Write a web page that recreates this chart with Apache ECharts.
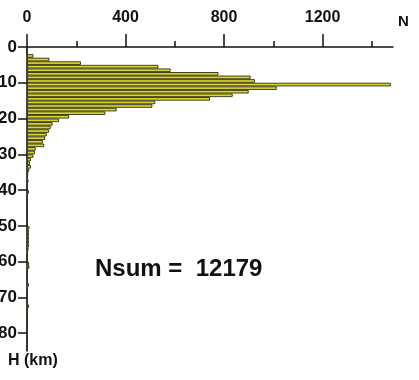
<!DOCTYPE html>
<html>
<head>
<meta charset="utf-8">
<script src="https://cdn.jsdelivr.net/npm/echarts@6/dist/echarts.min.js"></script>
<style>
  html, body { margin: 0; padding: 0; background: #ffffff; }
  #chart { width: 419px; height: 380px; }
</style>
</head>
<body>
<div id="chart"></div>
<script>
// Depth histogram of events: 1 km bins, N per bin
const depthBinStarts = Array.from({ length: 85 }, (_, i) => i); // lower edge of each bin, km
const counts = [
  0, 0, 26, 91, 219, 533, 583, 777, 908, 926,
  1477, 1014, 900, 835, 743, 521, 509, 364, 318, 171,
  130, 104, 96, 89, 80, 73, 64, 70, 35, 32,
  26, 16, 12, 16, 9, 5, 4, 6, 3, 2,
  8, 4, 0, 0, 2, 0, 0, 0, 0, 4,
  10, 8, 8, 8, 8, 8, 6, 4, 0, 0,
  8, 10, 4, 0, 0, 4, 8, 4, 0, 0,
  4, 0, 8, 0, 0, 0, 0, 0, 0, 0,
  0, 0, 0, 0, 0
];
const nTickMajor = [0, 400, 800, 1200];
const nTickMinor = [200, 600, 1000, 1400];
const depthTicks = [0, 10, 20, 30, 40, 50, 60, 70, 80];
const totalLabel = 'Nsum =  12179';

const FONT = '"Liberation Sans", Arial, sans-serif';
const chart = echarts.init(document.getElementById('chart'), null, { renderer: 'canvas' });

const nMax = 1486;
const depthMax = 85;

chart.setOption({
  animation: false,
  backgroundColor: '#ffffff',
  grid: { left: 27, top: 47, right: 26, bottom: 29, containLabel: false, outerBoundsMode: 'none' },
  xAxis: [
    {
      type: 'value', position: 'top', min: 0, max: nMax,
      axisLine: { show: true, lineStyle: { color: '#111', width: 1.5 } },
      axisTick: { show: true, length: 13, customValues: nTickMajor, lineStyle: { color: '#111', width: 1.5 } },
      axisLabel: { show: true, customValues: nTickMajor, margin: 21, color: '#111',
        formatter: (v) => String(v),
        fontFamily: FONT, fontWeight: 'bold', fontSize: 16 },
      splitLine: { show: false }
    },
    {
      type: 'value', position: 'top', min: 0, max: nMax,
      axisLine: { show: false },
      axisTick: { show: true, length: 6, customValues: nTickMinor, lineStyle: { color: '#111', width: 1.5 } },
      axisLabel: { show: false },
      splitLine: { show: false }
    }
  ],
  yAxis: [
    {
      type: 'value', min: 0, max: depthMax, inverse: true, position: 'left',
      axisLine: { show: true, lineStyle: { color: '#111', width: 1.5 } },
      axisTick: { show: true, length: 9, customValues: depthTicks, lineStyle: { color: '#111', width: 1.5 } },
      axisLabel: { show: true, customValues: depthTicks, margin: 10, color: '#111',
        fontFamily: FONT, fontWeight: 'bold', fontSize: 17 },
      splitLine: { show: false }
    },
    {
      type: 'category', inverse: true, data: depthBinStarts.map(String),
      boundaryGap: true, show: false,
      axisLine: { show: false }, axisTick: { show: false }, axisLabel: { show: false }
    }
  ],
  series: [
    {
      type: 'bar', xAxisIndex: 0, yAxisIndex: 1,
      data: counts,
      barCategoryGap: '0%',
      itemStyle: { color: '#dcd624', borderColor: '#2e2e1a', borderWidth: 0.9 }
    }
  ],
  graphic: [
    { type: 'text', left: 398, top: 14,
      style: { text: 'N', font: 'bold 15px ' + FONT, fill: '#111' } },
    { type: 'text', left: 8, top: 353,
      style: { text: 'H (km)', font: 'bold 16px ' + FONT, fill: '#111' } },
    { type: 'text', left: 95, top: 257,
      style: { text: totalLabel, font: 'bold 24px ' + FONT, fill: '#111' } }
  ]
});
</script>
</body>
</html>
